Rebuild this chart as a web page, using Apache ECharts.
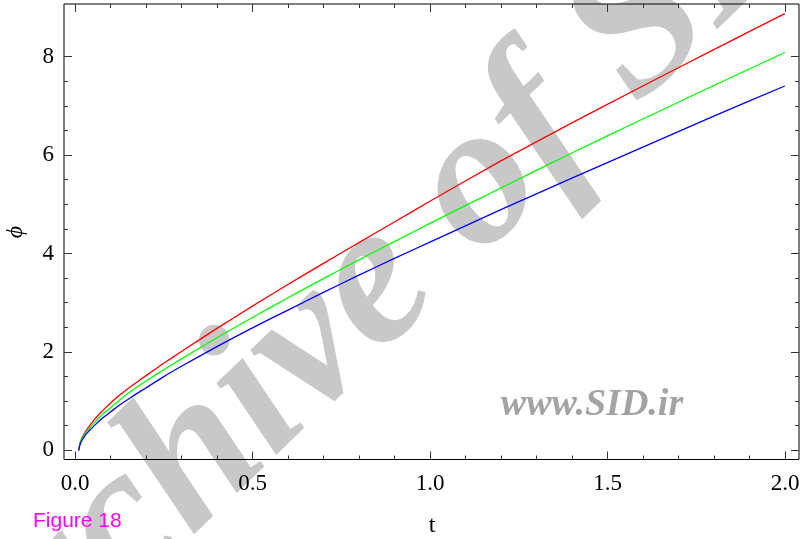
<!DOCTYPE html>
<html>
<head>
<meta charset="utf-8">
<script src="https://cdn.jsdelivr.net/npm/echarts@6/dist/echarts.min.js"></script>
<style>
    html, body { margin: 0; padding: 0; background: #fff; }
    #chart { width: 803px; height: 539px; }
</style>
</head>
<body>
<div id="chart"></div>
<script>
// values
const tValues = [0.01, 0.015, 0.02, 0.03, 0.04, 0.055, 0.07, 0.085, 0.1, 0.125, 0.15, 0.175, 0.2, 0.25, 0.3, 0.4, 0.5, 0.6, 0.7, 0.8, 0.9, 1.0, 1.2, 1.4, 1.6, 1.8, 2.0];
const phiRed   = [0, 0.17, 0.26, 0.39, 0.49, 0.63, 0.75, 0.86, 0.96, 1.12, 1.26, 1.39, 1.52, 1.77, 2.01, 2.48, 2.93, 3.37, 3.80, 4.22, 4.64, 5.06, 5.88, 6.65, 7.40, 8.14, 8.87];
const phiGreen = [0, 0.16, 0.24, 0.36, 0.45, 0.57, 0.68, 0.78, 0.87, 1.02, 1.16, 1.29, 1.41, 1.64, 1.86, 2.29, 2.70, 3.10, 3.49, 3.87, 4.24, 4.61, 5.33, 6.04, 6.73, 7.41, 8.08];
const phiBlue  = [0, 0.14, 0.21, 0.32, 0.40, 0.51, 0.61, 0.70, 0.78, 0.92, 1.04, 1.16, 1.27, 1.50, 1.71, 2.11, 2.49, 2.85, 3.21, 3.56, 3.90, 4.23, 4.89, 5.53, 6.16, 6.79, 7.40];
const curveColors = ['#ff0000', '#00ff00', '#0000ff'];

const xTickMin = 0, xTickMax = 2, xTickStep = 0.5;
const yTickMin = 0, yTickMax = 8, yTickStep = 2;

const serif = '"Liberation Serif", "DejaVu Serif", serif';
const chart = echarts.init(document.getElementById('chart'));

const pairs = arr => tValues.map((t, i) => [t, arr[i]]);

function tickAxis(extra) {
    return Object.assign({
        axisLine: { show: false },
        axisTick: { show: true, inside: true, length: 8, lineStyle: { color: '#333', width: 1 } },
        splitLine: { show: false },
        axisLabel: { show: false }
    }, extra);
}

const option = {
    animation: false,
    // frame + data grid, one grid for the t ticks, one for the phi ticks
    grid: [
        { left: 64, right: 4, top: 4, bottom: 79.5, show: true, borderColor: '#000', borderWidth: 1, outerBoundsMode: 'none', containLabel: false },
        { left: 75, right: 18, top: 4, bottom: 79.5, outerBoundsMode: 'none', containLabel: false },
        { left: 64, right: 4, top: 56.7, bottom: 88.7, outerBoundsMode: 'none', containLabel: false }
    ],
    xAxis: [
        {
            gridIndex: 0, type: 'value', min: -0.031, max: 2.04,
            axisLine: { show: false }, axisTick: { show: false }, axisLabel: { show: false },
            splitLine: { show: false }
        },
        tickAxis({
            gridIndex: 1, type: 'value', position: 'bottom',
            min: xTickMin, max: xTickMax, interval: xTickStep,
            minorTick: { show: true, splitNumber: 5, length: 4, lineStyle: { color: '#333' } },
            axisLabel: {
                show: true, margin: 13, fontFamily: serif, fontSize: 23, color: '#000',
                formatter: v => v.toFixed(1)
            }
        }),
        tickAxis({
            gridIndex: 1, type: 'value', position: 'top',
            min: xTickMin, max: xTickMax, interval: xTickStep,
            minorTick: { show: true, splitNumber: 5, length: 4, lineStyle: { color: '#333' } }
        }),
        { gridIndex: 2, type: 'value', show: false, min: 0, max: 1 }
    ],
    yAxis: [
        {
            gridIndex: 0, type: 'value', min: -0.183, max: 9.065,
            axisLine: { show: false }, axisTick: { show: false }, axisLabel: { show: false },
            splitLine: { show: false }
        },
        { gridIndex: 1, type: 'value', show: false, min: 0, max: 1 },
        tickAxis({
            gridIndex: 2, type: 'value', position: 'left',
            min: yTickMin, max: yTickMax, interval: yTickStep,
            minorTick: { show: true, splitNumber: 4, length: 4, lineStyle: { color: '#333' } },
            axisLabel: { show: true, margin: 10, fontFamily: serif, fontSize: 23, color: '#000' }
        }),
        tickAxis({
            gridIndex: 2, type: 'value', position: 'right',
            min: yTickMin, max: yTickMax, interval: yTickStep,
            minorTick: { show: true, splitNumber: 4, length: 4, lineStyle: { color: '#333' } }
        })
    ],
    graphic: [
        {
            type: 'text', x: 390, y: 272, rotation: 44 * Math.PI / 180, z: -1, silent: true,
            style: {
                text: 'Archive of SID', fill: '#c8c8c8',
                font: 'italic bold 203px "Liberation Serif"',
                align: 'center', verticalAlign: 'middle'
            }
        },
        {
            type: 'text', x: 592, y: 405, z: -1, silent: true,
            style: {
                text: 'www.SID.ir', fill: '#a3a3a3',
                font: 'italic bold 38px "Liberation Serif"',
                align: 'center', verticalAlign: 'middle'
            }
        },
        {
            type: 'text', x: 432, y: 526,
            style: {
                text: 't', fill: '#000',
                font: '24px "Liberation Serif"',
                align: 'center', verticalAlign: 'middle'
            }
        },
        {
            type: 'text', x: 16, y: 232, rotation: Math.PI / 2,
            style: {
                text: 'ϕ', fill: '#000',
                font: 'italic 24px "Liberation Serif"',
                align: 'center', verticalAlign: 'middle'
            }
        },
        {
            type: 'text', x: 33, y: 521,
            style: {
                text: 'Figure 18', fill: '#ff00ff',
                font: '21px "Liberation Sans"',
                align: 'left', verticalAlign: 'middle'
            }
        }
    ],
    series: [phiRed, phiGreen, phiBlue].map((arr, i) => ({
        type: 'line',
        xAxisIndex: 0,
        yAxisIndex: 0,
        data: pairs(arr),
        smooth: 0.2,
        showSymbol: false,
        lineStyle: { color: curveColors[i], width: 1.3 },
        z: 3
    }))
};

chart.setOption(option);
</script>
</body>
</html>
